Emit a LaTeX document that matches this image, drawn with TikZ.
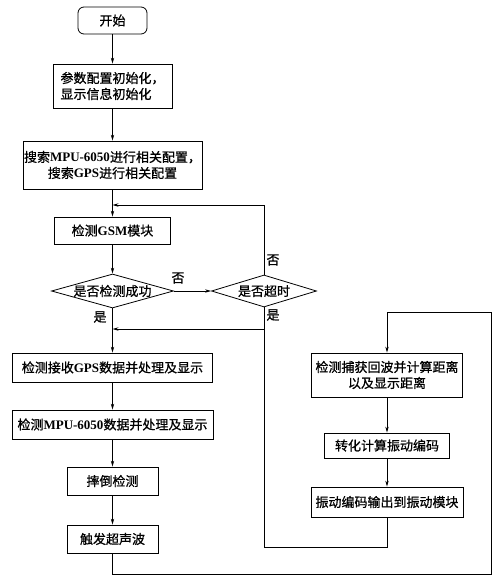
\documentclass[tikz,border=0pt]{standalone}
\usepackage{fontspec}
\setmainfont{Liberation Serif}
\newfontfamily\cjk[FakeBold=0.8]{Noto Sans CJK SC}
\usetikzlibrary{shapes.geometric,arrows.meta}
\newcommand\latw[1]{{\rmfamily\bfseries #1}}
\begin{document}
\begin{tikzpicture}[x=1pt,y=-1pt,
  every node/.style={font=\cjk\fontsize{13}{16}\selectfont, inner sep=0pt},
  procbox/.style={draw, line width=0.8pt, rectangle},
  decide/.style={draw, line width=0.8pt, diamond},
  lbl/.style={font=\cjk\fontsize{13}{16}\selectfont},
  flow/.style={draw, line width=0.8pt, -{Stealth[length=6pt,width=3.4pt]}},
  plain/.style={draw, line width=0.8pt}
]
\useasboundingbox (0,0) rectangle (497,581);

% main column
\node[procbox, rounded corners=6pt, minimum width=69, minimum height=27] (start) at (112.5,20.5) {开始};
\node[procbox, minimum width=119, minimum height=44, align=left] (init) at (112.5,86) {参数配置初始化，\\显示信息初始化};
\node[procbox, minimum width=179, minimum height=48, align=center] (search) at (112.5,165) {搜索\latw{MPU-6050}进行相关配置，\\搜索\latw{GPS}进行相关配置};
\node[procbox, minimum width=116, minimum height=27] (gsm) at (112.5,230.5) {检测\latw{GSM}模块};
\node[decide, minimum width=122, minimum height=34, shape aspect=3.6] (d1) at (112.5,291) {是否检测成功};
\node[decide, minimum width=105, minimum height=32, shape aspect=3.3] (d2) at (264,291) {是否超时};
\node[procbox, minimum width=200, minimum height=29] (gps) at (112.5,367.5) {检测接收\latw{GPS}数据并处理及显示};
\node[procbox, minimum width=201, minimum height=29] (mpu) at (112.5,424.5) {检测\latw{MPU-6050}数据并处理及显示};
\node[procbox, minimum width=91, minimum height=28] (fall) at (112.5,481) {摔倒检测};
\node[procbox, minimum width=91, minimum height=28] (trig) at (112.5,539) {触发超声波};

% right column
\node[procbox, minimum width=151, minimum height=44, align=center] (echo) at (387,375) {检测捕获回波并计算距离\\以及显示距离};
\node[procbox, minimum width=125, minimum height=25] (conv) at (387,445.5) {转化计算振动编码};
\node[procbox, minimum width=152, minimum height=30] (out) at (387,502) {振动编码输出到振动模块};

% junction coordinates
\coordinate (j1) at (112.5,205);
\coordinate (j2) at (112.5,329);
\coordinate (j2r) at (264,329);
\coordinate (b1) at (112.5,574);
\coordinate (b2) at (491,574);
\coordinate (b3) at (491,312);
\coordinate (b4) at (387,312);
\coordinate (r1) at (387,547);
\coordinate (r2) at (264,547);

% connectors
\draw[flow] (start) -- (init);
\draw[flow] (init) -- (search);
\draw[flow] (search) -- (gsm);
\draw[flow] (gsm) -- (d1);
\draw[flow] (d1) -- (d2);
\draw[flow] (d2.north) |- (j1);
\draw[flow] (d2.south) -- (j2r) -- (j2);
\draw[flow] (d1) -- (gps);
\draw[flow] (gps) -- (mpu);
\draw[flow] (mpu) -- (fall);
\draw[flow] (fall) -- (trig);
\draw[flow] (trig.south) -- (b1) -- (b2) -- (b3) -- (b4) -- (echo.north);
\draw[flow] (echo) -- (conv);
\draw[flow] (conv) -- (out);
\draw[plain] (out.south) -- (r1) -- (r2) -- (j2r);

% labels
\node[lbl] (l1) at (178,278) {否};
\node[lbl] (l2) at (100,317) {是};
\node[lbl] (l3) at (273,260) {否};
\node[lbl] (l4) at (273,315) {是};
\end{tikzpicture}
\end{document}
